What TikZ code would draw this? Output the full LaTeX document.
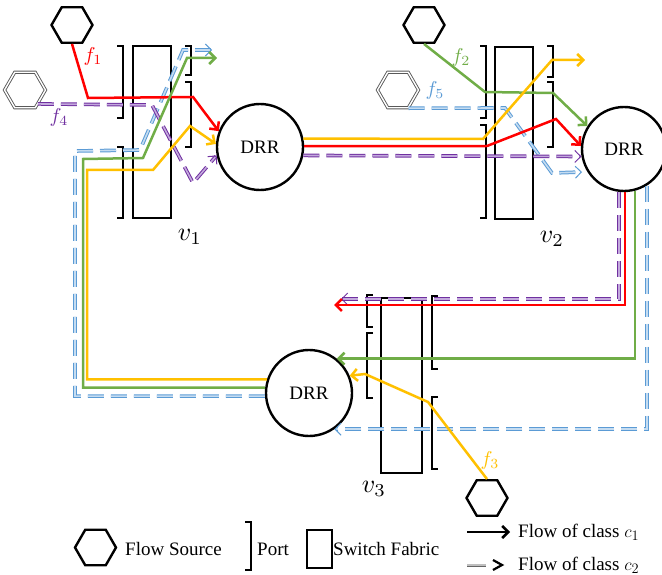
\documentclass[tikz,border=0pt]{standalone}
\usepackage{fontspec}
\setmainfont{Liberation Serif}
\usetikzlibrary{arrows.meta,shapes.geometric}
\definecolor{fred}{HTML}{FF0000}
\definecolor{fgreen}{HTML}{70AD47}
\definecolor{fyellow}{HTML}{FFC000}
\definecolor{fblue}{HTML}{5B9BD5}
\definecolor{fbluel}{HTML}{C5DCF1}
\definecolor{fpurple}{HTML}{7030A0}
\definecolor{fpurplel}{HTML}{C3A9DD}
\newcommand{\mymath}[2]{\scalebox{#1}{$#2$}}
\begin{document}
\begin{tikzpicture}[x=1pt,y=-1pt,
  hexsrc/.style={regular polygon, regular polygon sides=6, minimum size=41pt, inner sep=0pt, draw, line width=2.4pt},
  hexdbl/.style={regular polygon, regular polygon sides=6, minimum size=41pt, inner sep=0pt, draw=black!65, double=white, double distance=1.4pt, line width=0.9pt},
  drr/.style={circle, draw, line width=2.4pt, minimum size=86pt, inner sep=0pt, font=\fontsize{19}{22}\selectfont},
  fabric/.style={rectangle, draw, line width=2.5pt, inner sep=0pt},
  portline/.style={line width=2.2pt},
  portdbl/.style={draw=black!60, double=white, double distance=1.2pt, line width=0.8pt},
  flowtip/.style={-{Straight Barb[length=6pt,width=12pt]}},
  cone/.style={line width=2.5pt, flowtip},
  ctwo/.style={line width=1pt, double distance=1.6pt, dash pattern=on 16pt off 7pt, flowtip},
  bluec/.style={ctwo, draw=fblue, double=fbluel},
  purplec/.style={ctwo, draw=fpurple, double=fpurplel},
  flabel/.style={inner sep=0pt},
  vlabel/.style={inner sep=0pt},
  legtext/.style={font=\fontsize{19}{22}\selectfont, inner sep=0pt, anchor=base west}
]
\useasboundingbox (0,0) rectangle (662,575);

% switch fabrics
\node[fabric, minimum width=38pt, minimum height=172pt] (v1fab) at (152,132) {};
\node[fabric, minimum width=38pt, minimum height=172pt] (v2fab) at (514,133) {};
\node[fabric, minimum width=41pt, minimum height=175pt] (v3fab) at (401.5,385.5) {};

% ports v1
\draw[portline] (117,46) -- (123,46) -- (123,118) -- (117,118);
\draw[portline] (117,147) -- (123,147) -- (123,218) -- (117,218);
\draw[portline] (185,46) -- (191,46) -- (191,75) -- (185,75);
\draw[portline] (185,82) -- (191,82) -- (191,147) -- (185,147);
\draw[portdbl] (185,153) -- (191,153) -- (191,218) -- (185,218);
% ports v2
\draw[portline] (480,46) -- (486,46) -- (486,118) -- (480,118);
\draw[portline] (480,125) -- (486,125) -- (486,218) -- (480,218);
\draw[portline] (547,46) -- (553,46) -- (553,77) -- (547,77);
\draw[portline] (547,82) -- (553,82) -- (553,147) -- (547,147);
\draw[portdbl] (547,153) -- (553,153) -- (553,218) -- (547,218);
% ports v3
\draw[portline] (373,295) -- (367,295) -- (367,327) -- (373,327);
\draw[portline] (373,333) -- (367,333) -- (367,398) -- (373,398);
\draw[portdbl] (373,403) -- (367,403) -- (367,468) -- (373,468);
\draw[portline] (438,296) -- (432,296) -- (432,369) -- (438,369);
\draw[portline] (438,397) -- (432,397) -- (432,469) -- (438,469);

% DRR nodes
\node[drr] (drr1) at (260,147) {DRR};
\node[drr, minimum size=84pt] (drr2) at (624,149) {DRR};
\node[drr] (drr3) at (309,393) {DRR};

% flow sources
\node[hexsrc] (f1) at (72,25) {};
\node[hexdbl] (f4) at (25,90) {};
\node[hexsrc] (f2) at (424,25) {};
\node[hexdbl] (f5) at (398,90) {};
\node[hexsrc] (f3) at (487,498) {};

% class c2 flows (blue f5)
\draw[bluec] (f5.-60) -- (505,108) -- (552,173) -- (582,172);
\draw[bluec] (drr2.302) |- (drr3.-55);
\draw[bluec] (drr3.184) -| (75,151) -- (140,150) -- (183,50) -- (212,50);
% class c2 flows (purple f4)
\draw[purplec] (f4.-47) -- (152,105) -- (193,183) -- (drr1.191);
\draw[purplec] (drr1.-11) -- (drr2.190);
\draw[purplec] (drr2.263) |- (341,299);

% class c1 flows
\draw[cone, fred] (f1.south) -- (88,98) -- (193,97) -- (drr1.159);
\draw[cone, fred] (drr1.1) -- (487,146) -- (556,119) -- (drr2.176);
\draw[cone, fred] (drr2.271) |- (334,305);

\draw[cone, fgreen] (f2.south) -- (485,92) -- (553,93) -- (drr2.148);
\draw[cone, fgreen] (drr2.285) |- (drr3.51);
\draw[cone, fgreen] (drr3.173) -| (83,159) -- (143,158) -- (187,58) -- (217,58);

\draw[cone, fyellow] (f3.north) -- (428,402) -- (365,374) -- (drr3.23);
\draw[cone, fyellow] (drr3.162) -| (87,170) -- (153,170) -- (190,126) -- (drr1.176);
\draw[cone, fyellow] (drr1.11) -- (483,139) -- (552,60) -- (585,60);

% labels
\node[flabel, text=fred] (lf1) at (93,57) {\mymath{2.0}{f_1}};
\node[flabel, text=fpurple] (lf4) at (59,118) {\mymath{2.0}{f_4}};
\node[flabel, text=fgreen] (lf2) at (461,58) {\mymath{2.0}{f_2}};
\node[flabel, text=fblue] (lf5) at (435,91) {\mymath{2.0}{f_5}};
\node[flabel, text=fyellow] (lf3) at (490,460) {\mymath{2.0}{f_3}};
\node[vlabel] (lv1) at (190,237) {\mymath{2.6}{v_1}};
\node[vlabel] (lv2) at (552,239) {\mymath{2.6}{v_2}};
\node[vlabel] (lv3) at (374,489) {\mymath{2.6}{v_3}};

% legend
\node[hexsrc] (lhex) at (95.5,547.5) {};
\node[legtext] (lsrc) at (125,555) {Flow Source};
\draw[portline] (245,522) -- (251,522) -- (251,570) -- (245,570);
\node[legtext] (lport) at (257,555) {Port};
\node[fabric, minimum width=25pt, minimum height=38pt] (lfab) at (319.5,549) {};
\node[legtext] (lsw) at (333,555) {Switch Fabric};
\coordinate (lc1a) at (467,532);
\coordinate (lc1b) at (510,532);
\draw[cone, black] (lc1a) -- (lc1b);
\node[legtext] (lc1) at (518,537) {Flow of class $c_1$};
\coordinate (lc2a) at (467,565);
\coordinate (lc2b) at (486,565);
\draw[line width=0.8pt, draw=black!60, double=black!25, double distance=1.4pt] (lc2a) -- (lc2b);
\draw[line width=2.2pt] (493,560) -- (502,565) -- (493,570);
\node[legtext] (lc2) at (518,570) {Flow of class $c_2$};
\end{tikzpicture}
\end{document}
